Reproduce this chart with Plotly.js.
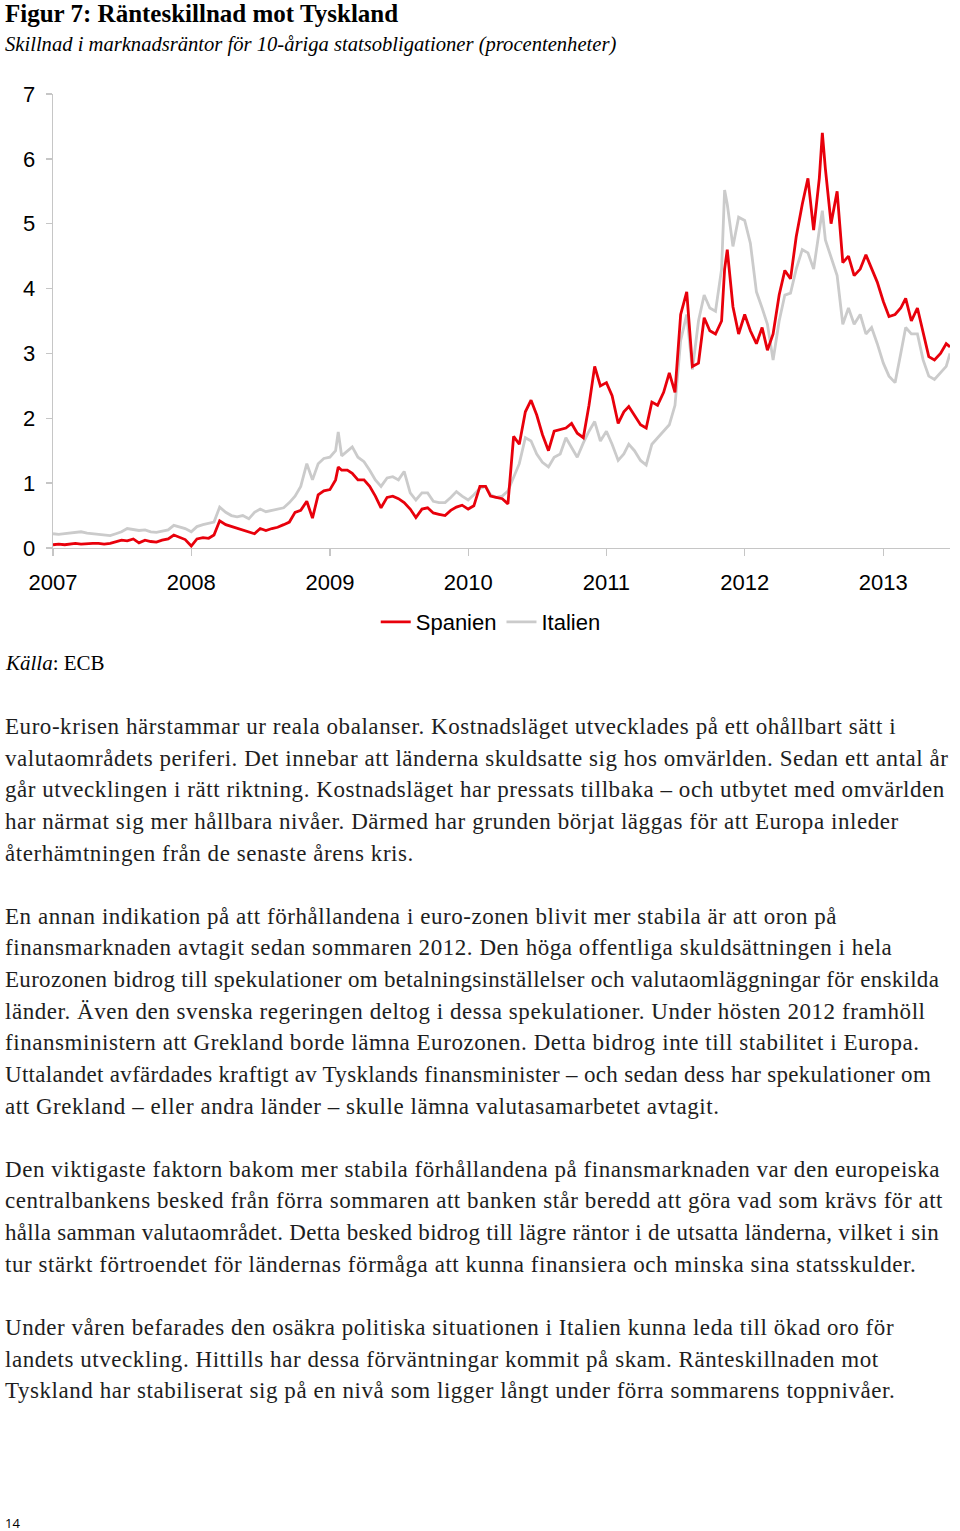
<!DOCTYPE html>
<html>
<head>
<meta charset="utf-8">
<script src="https://cdn.plot.ly/plotly-3.0.1.min.js"></script>
<style>
  html, body { margin:0; padding:0; background:#fff; }
  body { width:960px; height:1531px; position:relative; overflow:hidden; }
  #chart { position:absolute; left:0; top:0; width:960px; height:690px; }
  #body { position:absolute; left:5px; top:711px; width:955px; font-family:"Liberation Serif", serif; font-size:23px; letter-spacing:0.55px; line-height:31.62px; color:#1e1e1e; white-space:nowrap; }
  #body .tight { letter-spacing:0.3px; }
  #page { position:absolute; left:5px; top:1514px; font-family:"Open Sans", sans-serif; font-size:13px; color:#000; }
</style>
</head>
<body>
<div id="chart"></div>
<div id="body">
Euro-krisen härstammar ur reala obalanser. Kostnadsläget utvecklades på ett ohållbart sätt i<br>
valutaområdets periferi. Det innebar att länderna skuldsatte sig hos omvärlden. Sedan ett antal år<br>
går utvecklingen i rätt riktning. Kostnadsläget har pressats tillbaka – och utbytet med omvärlden<br>
har närmat sig mer hållbara nivåer. Därmed har grunden börjat läggas för att Europa inleder<br>
återhämtningen från de senaste årens kris.<br>
<br>
En annan indikation på att förhållandena i euro-zonen blivit mer stabila är att oron på<br>
finansmarknaden avtagit sedan sommaren 2012. Den höga offentliga skuldsättningen i hela<br>
<span class="tight">Eurozonen bidrog till spekulationer om betalningsinställelser och valutaomläggningar för enskilda</span><br>
länder. Även den svenska regeringen deltog i dessa spekulationer. Under hösten 2012 framhöll<br>
finansministern att Grekland borde lämna Eurozonen. Detta bidrog inte till stabilitet i Europa.<br>
<span class="tight">Uttalandet avfärdades kraftigt av Tysklands finansminister – och sedan dess har spekulationer om</span><br>
att Grekland – eller andra länder – skulle lämna valutasamarbetet avtagit.<br>
<br>
Den viktigaste faktorn bakom mer stabila förhållandena på finansmarknaden var den europeiska<br>
centralbankens besked från förra sommaren att banken står beredd att göra vad som krävs för att<br>
<span class="tight">hålla samman valutaområdet. Detta besked bidrog till lägre räntor i de utsatta länderna, vilket i sin</span><br>
tur stärkt förtroendet för ländernas förmåga att kunna finansiera och minska sina statsskulder.<br>
<br>
Under våren befarades den osäkra politiska situationen i Italien kunna leda till ökad oro för<br>
landets utveckling. Hittills har dessa förväntningar kommit på skam. Ränteskillnaden mot<br>
Tyskland har stabiliserat sig på en nivå som ligger långt under förra sommarens toppnivåer.
</div>
<div id="page">14</div>
<script>
// Dates (semi-monthly, plus a few spike dates)
const dates2007 = ['2007-01-01','2007-01-16','2007-02-01','2007-02-16','2007-03-01','2007-03-16','2007-04-01','2007-04-16','2007-05-01','2007-05-16','2007-06-01','2007-06-16','2007-07-01','2007-07-16','2007-08-01','2007-08-16','2007-09-01','2007-09-16','2007-10-01','2007-10-16','2007-11-01','2007-11-16','2007-12-01','2007-12-16'];
const dates2008 = ['2008-01-01','2008-01-16','2008-02-01','2008-02-16','2008-03-01','2008-03-16','2008-04-01','2008-04-16','2008-05-01','2008-05-16','2008-06-01','2008-06-16','2008-07-01','2008-07-16','2008-08-01','2008-08-16','2008-09-01','2008-09-16','2008-10-01','2008-10-16','2008-11-01','2008-11-16','2008-12-01','2008-12-16'];
const dates2009 = ['2009-01-01','2009-01-16','2009-01-23','2009-02-01','2009-02-16','2009-03-01','2009-03-16','2009-04-01','2009-04-16','2009-05-01','2009-05-16','2009-06-01','2009-06-16','2009-07-01','2009-07-16','2009-08-01','2009-08-16','2009-09-01','2009-09-16','2009-10-01','2009-10-16','2009-11-01','2009-11-16','2009-12-01','2009-12-16'];
const dates2010 = ['2010-01-01','2010-01-16','2010-02-01','2010-02-16','2010-03-01','2010-03-16','2010-04-01','2010-04-16','2010-05-01','2010-05-16','2010-06-01','2010-06-16','2010-07-01','2010-07-16','2010-08-01','2010-08-16','2010-09-01','2010-09-16','2010-10-01','2010-10-16','2010-11-01','2010-11-16','2010-12-01','2010-12-16'];
const dates2011 = ['2011-01-01','2011-01-16','2011-02-01','2011-02-16','2011-03-01','2011-03-16','2011-04-01','2011-04-16','2011-05-01','2011-05-16','2011-06-01','2011-06-16','2011-07-01','2011-07-16','2011-08-01','2011-08-16','2011-09-01','2011-09-16','2011-10-01','2011-10-16','2011-11-01','2011-11-09','2011-11-16','2011-12-01','2011-12-16'];
const dates2012 = ['2012-01-01','2012-01-16','2012-02-01','2012-02-16','2012-03-01','2012-03-16','2012-04-01','2012-04-16','2012-05-01','2012-05-16','2012-06-01','2012-06-16','2012-07-01','2012-07-16','2012-07-24','2012-08-01','2012-08-16','2012-09-01','2012-09-16','2012-10-01','2012-10-16','2012-11-01','2012-11-16','2012-12-01','2012-12-16'];
const dates2013 = ['2013-01-01','2013-01-16','2013-02-01','2013-02-16','2013-03-01','2013-03-16','2013-04-01','2013-04-16','2013-05-01','2013-05-16','2013-06-01','2013-06-16','2013-06-26'];

// Spread vs Germany, percentage points – Spain
const spain2007 = [0.05,0.06,0.05,0.06,0.07,0.06,0.07,0.07,0.07,0.06,0.07,0.10,0.12,0.11,0.14,0.08,0.12,0.10,0.09,0.12,0.14,0.20,0.17,0.13];
const spain2008 = [0.03,0.14,0.16,0.15,0.20,0.42,0.36,0.33,0.30,0.28,0.25,0.22,0.30,0.27,0.30,0.32,0.36,0.40,0.55,0.58,0.72,0.46,0.82,0.88];
const spain2009 = [0.90,1.05,1.25,1.20,1.20,1.15,1.05,1.05,0.95,0.80,0.62,0.78,0.80,0.76,0.70,0.60,0.47,0.60,0.62,0.54,0.52,0.50,0.58,0.63,0.66];
const spain2010 = [0.60,0.65,0.95,0.95,0.80,0.78,0.76,0.68,1.72,1.60,2.10,2.28,2.05,1.75,1.50,1.80,1.82,1.85,1.92,1.77,1.70,2.20,2.80,2.50];
const spain2011 = [2.55,2.35,1.92,2.10,2.18,2.05,1.90,1.85,2.25,2.20,2.40,2.70,2.40,3.60,3.95,2.80,2.85,3.55,3.35,3.30,3.50,4.30,4.60,3.72,3.30];
const spain2012 = [3.60,3.35,3.15,3.40,3.05,3.30,3.90,4.28,4.15,4.80,5.30,5.70,4.90,5.70,6.40,5.85,5.00,5.50,4.40,4.50,4.20,4.30,4.52,4.30,4.10];
const spain2013 = [3.80,3.57,3.60,3.70,3.85,3.50,3.70,3.30,2.95,2.90,3.00,3.15,3.10];

// Italy
const italy2007 = [0.22,0.21,0.22,0.23,0.24,0.25,0.23,0.22,0.22,0.21,0.19,0.22,0.25,0.30,0.28,0.27,0.28,0.25,0.24,0.26,0.28,0.35,0.33,0.30];
const italy2008 = [0.25,0.33,0.36,0.38,0.40,0.63,0.55,0.50,0.48,0.50,0.45,0.55,0.60,0.56,0.58,0.60,0.62,0.70,0.80,0.95,1.30,1.05,1.30,1.38];
const italy2009 = [1.40,1.50,1.79,1.42,1.50,1.56,1.40,1.33,1.20,1.05,0.95,1.08,1.10,1.05,1.18,0.85,0.74,0.85,0.85,0.72,0.70,0.70,0.78,0.87,0.80];
const italy2010 = [0.74,0.82,0.92,0.95,0.82,0.78,0.80,0.88,1.10,1.30,1.70,1.65,1.45,1.32,1.25,1.40,1.45,1.70,1.55,1.40,1.62,1.80,1.95,1.65];
const italy2011 = [1.80,1.60,1.35,1.45,1.60,1.50,1.35,1.28,1.60,1.70,1.80,1.90,2.20,3.20,3.60,2.75,3.50,3.90,3.70,3.65,4.30,5.52,5.30,4.65,5.10];
const italy2012 = [5.05,4.70,3.95,3.70,3.45,2.90,3.50,3.90,3.93,4.30,4.60,4.55,4.30,4.90,5.20,4.75,4.50,4.20,3.45,3.70,3.45,3.60,3.30,3.40,3.15];
const italy2013 = [2.85,2.65,2.55,3.00,3.40,3.30,3.30,2.90,2.65,2.60,2.70,2.80,3.00];

const yearTicks = ['2007-01-01','2008-01-01','2009-01-01','2010-01-01','2011-01-01','2012-01-01','2013-01-01'];
const yearLabels = ['2007','2008','2009','2010','2011','2012','2013'];
const yTicks = [0,1,2,3,4,5,6,7];

const dates = [].concat(dates2007, dates2008, dates2009, dates2010, dates2011, dates2012, dates2013);
const spain = [].concat(spain2007, spain2008, spain2009, spain2010, spain2011, spain2012, spain2013);
const italy = [].concat(italy2007, italy2008, italy2009, italy2010, italy2011, italy2012, italy2013);

const sans = 'Liberation Sans, Arial, sans-serif';
const serif = 'Liberation Serif, Times New Roman, serif';
const axisGrey = '#c6c6c6';

const traces = [
  { x: dates, y: italy, name: 'Italien', type: 'scatter', mode: 'lines',
    line: { color: '#cbcbcb', width: 2.8 }, legendrank: 2 },
  { x: dates, y: spain, name: 'Spanien', type: 'scatter', mode: 'lines',
    line: { color: '#e8000b', width: 2.8 }, legendrank: 1 }
];

const layout = {
  width: 960, height: 690,
  margin: { l: 53, r: 10, t: 94, b: 142 },
  paper_bgcolor: '#fff', plot_bgcolor: '#fff',
  title: { text: '<b>Figur 7: Ränteskillnad mot Tyskland</b>',
    font: { family: serif, size: 25, color: '#000' },
    xref: 'container', x: 5/960, xanchor: 'left',
    yref: 'container', y: 1 - 13/690, yanchor: 'middle' },
  xaxis: { type: 'date', range: ['2007-01-01', '2013-06-26'],
    tickmode: 'array', tickvals: yearTicks, ticktext: yearLabels,
    showline: true, linecolor: axisGrey, linewidth: 1.3,
    ticks: 'outside', ticklen: 7, tickcolor: axisGrey, tickwidth: 1.3,
    ticklabelstandoff: 7,
    showgrid: false, zeroline: false,
    tickfont: { family: sans, size: 22, color: '#000' } },
  yaxis: { range: [0, 7], tickmode: 'array', tickvals: yTicks,
    showline: true, linecolor: axisGrey, linewidth: 1.3,
    ticks: 'outside', ticklen: 6, tickcolor: axisGrey, tickwidth: 1.3,
    ticklabelstandoff: 6,
    showgrid: false, zeroline: false,
    tickfont: { family: sans, size: 22, color: '#000' } },
  showlegend: true,
  legend: { orientation: 'h', x: 0.488, xanchor: 'center', y: -0.163, yanchor: 'middle',
    font: { family: sans, size: 22, color: '#000' }, itemwidth: 30, bgcolor: 'rgba(0,0,0,0)' },
  annotations: [
    { text: '<i>Skillnad i marknadsräntor för 10-åriga statsobligationer (procentenheter)</i>',
      xref: 'paper', x: -50/897, xanchor: 'left', yref: 'paper', y: (548-44)/454, yanchor: 'middle',
      showarrow: false, font: { family: serif, size: 20.6, color: '#000' } },
    { text: '<i>Källa</i>: ECB',
      xref: 'paper', x: -50/897, xanchor: 'left', yref: 'paper', y: (548-663)/454, yanchor: 'middle',
      showarrow: false, font: { family: serif, size: 21, color: '#000' } }
  ]
};

Plotly.newPlot('chart', traces, layout, { staticPlot: true, displayModeBar: false });
</script>
</body>
</html>
